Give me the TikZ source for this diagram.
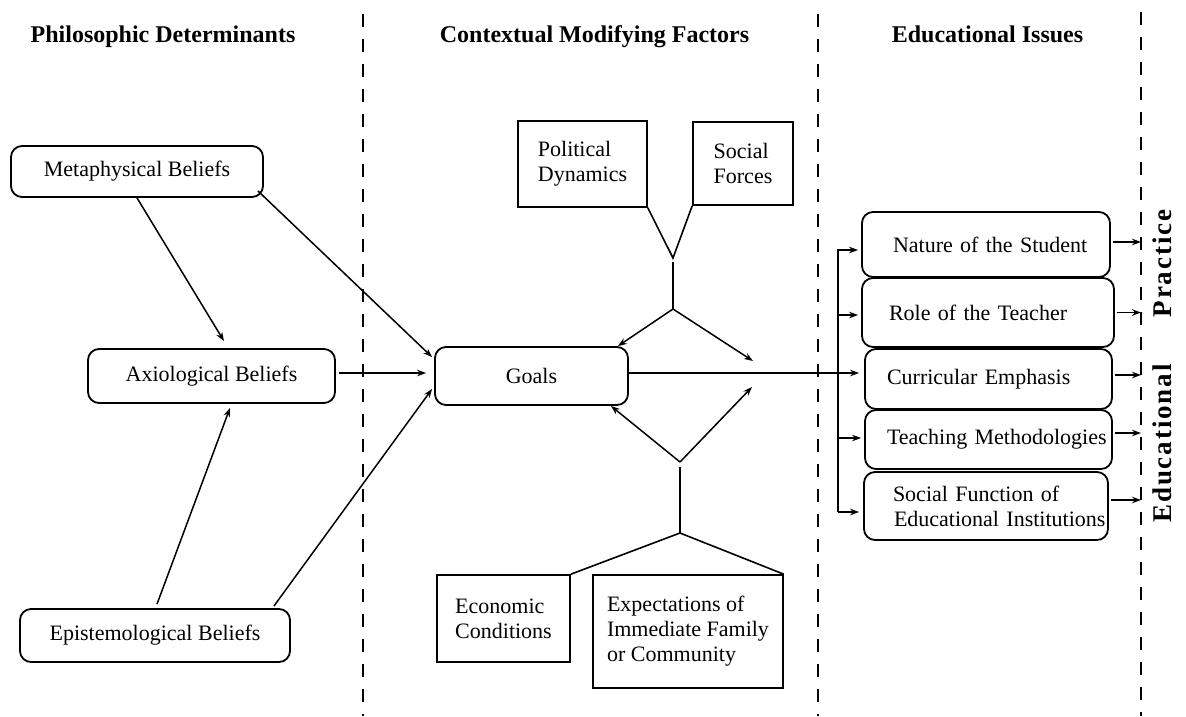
\documentclass[tikz,border=0pt]{standalone}
\usepackage{fontspec}
\setmainfont{Liberation Serif}
\usetikzlibrary{arrows.meta,calc}
\begin{document}
\begin{tikzpicture}[x=1pt,y=-1pt,
  txt/.style={font=\fontsize{22}{25}\selectfont},
  rbox/.style={txt, draw, line width=1.8pt, rounded corners=11pt, inner sep=0pt},
  lbox/.style={rbox, inner xsep=0pt, align=left},
  sbox/.style={txt, draw, line width=1.6pt, inner sep=0pt, align=left},
  arr/.style={line width=1.5pt, -{Stealth[length=9pt,width=6.5pt]}},
  ln/.style={line width=1.6pt},
  hdr/.style={font=\bfseries\fontsize{24}{28}\selectfont, anchor=base},
  vtext/.style={font=\bfseries\fontsize{27}{30}\selectfont\addfontfeature{LetterSpace=7}, rotate=90, anchor=base},
  divline/.style={line width=2pt, dash pattern=on 13pt off 12pt},
]
\fill[white] (0,0) rectangle (1186,716);
\useasboundingbox (0,0) rectangle (1186,716);

% column dividers
\draw[divline] (363,14) -- (363,716);
\draw[divline] (818,14) -- (818,716);
\draw[divline] (1141,12) -- (1141,716);
\coordinate (rx) at (1141,0);

% headers
\node[hdr] (h1) at (163,42) {Philosophic Determinants};
\node[hdr] (h2) at (594.5,42) {Contextual Modifying Factors};
\node[hdr] (h3) at (987.5,42) {Educational Issues};

% philosophic boxes
\node[rbox, minimum width=252pt, minimum height=51pt] (meta) at (137,171.5) {Metaphysical Beliefs};
\node[rbox, minimum width=247pt, minimum height=54pt] (axio) at (211.5,376) {Axiological Beliefs};
\node[rbox, minimum width=270pt, minimum height=53pt] (epis) at (155,635.5) {Epistemological Beliefs};
\node[rbox, minimum width=193pt, minimum height=58pt] (goals) at (531.5,376) {Goals};

% contextual boxes
\node[sbox, minimum width=129pt, minimum height=86pt] (pol) at (582.5,164) {Political\\Dynamics};
\node[sbox, minimum width=100pt, minimum height=83pt] (soc) at (743,163.5) {Social\\Forces};
\node[sbox, minimum width=133pt, minimum height=87pt] (econ) at (503.5,618.5) {Economic\\Conditions};
\node[sbox, minimum width=190pt, minimum height=113pt] (expe) at (688,631.5) {Expectations of\\Immediate Family\\or Community};

% educational issues boxes
\node[lbox, text width=248pt, minimum height=65pt] (nat) at (986,244.5) {\mbox{\hspace*{31pt}Nature of the Student}};
\node[lbox, text width=252pt, minimum height=69pt] (role) at (988,312.5) {\mbox{\hspace*{27pt}Role of the Teacher}};
\node[lbox, text width=247pt, minimum height=60pt] (curr) at (988.5,379) {\mbox{\hspace*{22pt}Curricular Emphasis}};
\node[lbox, text width=247pt, minimum height=59pt] (teach) at (988.5,439.5) {\mbox{\hspace*{22pt}Teaching Methodologies}};
\node[lbox, text width=244pt, minimum height=68pt] (socf) at (986,506) {\mbox{\hspace*{29pt}Social Function of}\\\mbox{\hspace*{30pt}Educational Institutions}};

% vertical label
\node[vtext] (pr) at (1171,263.5) {Practice};
\node[vtext] (ed) at (1171,443.5) {Educational};

% philosophic connectors
\draw[arr] (meta.south) -- ($(axio.north)+(12.5,-7)$);
\draw[arr] ($(meta.south east)+(-6,-7)$) -- ($(goals.north west)+(-2,11)$);
\draw[arr] ($(axio.east)+(3,-3)$) -- ($(goals.west)+(-8,-3)$);
\draw[arr] ($(epis.north)+(2,-4)$) -- ($(axio.south)+(18.5,4)$);
\draw[arr] ($(epis.north east)+(-17,-2)$) -- ($(goals.south west)+(-2,-17)$);

% upper Y
\coordinate (ytop) at (673,258);
\coordinate (ystem) at (673,262);
\coordinate (yfork) at (673,309);
\coordinate (upin) at (753,361);
\draw[ln] (pol.south east) -- (ytop) -- (soc.south west);
\draw[ln] (ystem) -- (yfork);
\draw[arr] (yfork) -- ($(goals.north east)+(-11,0)$);
\draw[arr] (yfork) -- (upin);

% lower inverted Y
\coordinate (vapex) at (680,462);
\coordinate (vstem) at (680,467);
\coordinate (vbase) at (680,533);
\coordinate (lowin) at (752,387);
\draw[ln] (econ.north east) -- (vbase) -- (expe.north east);
\draw[ln] (vbase) -- (vstem);
\draw[arr] (vapex) -- ($(goals.south east)+(-18,0)$);
\draw[arr] (vapex) -- (lowin);

% goals to issues
\draw[arr] ($(goals.east)+(0,-3)$) -- ($(curr.west)+(-5,-6)$);

% bracket
\coordinate (btop) at (838,250);
\coordinate (bbot) at (838,512);
\draw[arr] (bbot) -- (btop) -- ($(nat.west)+(-3,5.5)$);
\draw[arr] (bbot) -- ($(socf.west)+(-4,6)$);
\draw[arr] ($(btop |- role.west)+(0,2.5)$) -- ($(role.west)+(-3,2.5)$);
\draw[arr] ($(btop |- teach.west)+(0,-1.5)$) -- ($(teach.west)+(-3,-1.5)$);

% to practice
\draw[arr] ([xshift=2pt,yshift=2.5pt]nat.east) -- ([yshift=2.5pt]nat.east -| rx);
\draw[arr] ([xshift=2pt]role.east) -- (role.east -| rx);
\draw[arr] ([xshift=2pt,yshift=4pt]curr.east) -- ([yshift=4pt]curr.east -| rx);
\draw[arr] ([xshift=2pt,yshift=6.5pt]teach.east) -- ([yshift=6.5pt]teach.east -| rx);
\draw[arr] ([xshift=2pt,yshift=6pt]socf.east) -- ([yshift=6pt]socf.east -| rx);
\end{tikzpicture}
\end{document}
